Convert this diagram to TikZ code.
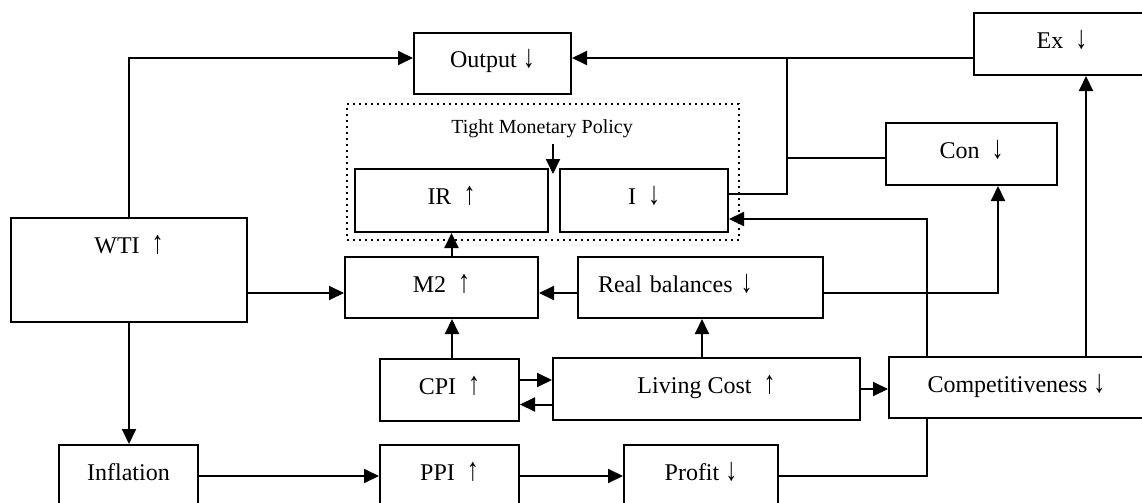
\documentclass[tikz,border=0pt]{standalone}
\usepackage{fontspec}
\usepackage{graphicx}
\setmainfont{Liberation Serif}
\usetikzlibrary{arrows.meta}
\newcommand{\uparr}{\scalebox{1}[1.35]{↑}}
\newcommand{\dnarr}{\scalebox{1}[1.35]{↓}}
\tikzstyle{block} = [rectangle, draw=black, line width=1pt, anchor=north west, inner sep=0pt, text height=17.5pt, align=center, font=\fontsize{12pt}{14pt}\selectfont]
\tikzstyle{policy} = [rectangle, draw=black, line width=1pt, dotted, anchor=north west, inner sep=0pt]
\tikzstyle{arrow} = [line width=1pt, ->, >={Triangle[length=7.5pt, width=7pt]}]
\tikzstyle{line} = [line width=1pt]

\begin{document}
\begin{tikzpicture}[x=0.5pt, y=-0.5pt]
        \useasboundingbox (0,0) rectangle (1142,503);

        \node (output) [block, minimum width=78.5pt, text depth=13pt] at (413,32) {Output \dnarr};
        \node (ex) [block, minimum width=88pt, text depth=13.5pt] at (973,12) {Ex~~\dnarr};
        \node (con) [block, minimum width=85.5pt, text depth=13.5pt] at (885,122) {Con~~\dnarr};
        \node (tmpbox) [policy, minimum width=196pt, minimum height=68pt] at (346,103) {};
        \node (tight) [anchor=base, font=\fontsize{10pt}{12pt}\selectfont] at (542,133) {Tight Monetary Policy};
        \node (ir) [block, minimum width=96.5pt, text depth=14pt] at (354,168) {IR~~\uparr};
        \node (inv) [block, minimum width=84pt, text depth=14pt] at (559,168) {I~~\dnarr};
        \node (wti) [block, minimum width=118pt, text depth=34.5pt] at (10,217) {WTI~~\uparr};
        \node (m2) [block, minimum width=96.5pt, text depth=13pt] at (344,256) {M2~~\uparr};
        \node (balances) [block, text width=102.5pt, inner xsep=10pt, align=left, text depth=13pt] at (577,256) {Real balances \dnarr};
        \node (cpi) [block, minimum width=69.5pt, text depth=13.5pt] at (379,358) {CPI~~\uparr};
        \node (living) [block, minimum width=153.5pt, text depth=13.5pt] at (552,357) {Living Cost~~\uparr};
        \node (comp) [block, minimum width=127.5pt, text depth=13pt] at (888,356) {Competitiveness \dnarr};
        \node (inflation) [block, minimum width=69.5pt, text depth=13.5pt] at (58,444) {Inflation};
        \node (ppi) [block, minimum width=69.5pt, text depth=13.5pt] at (379,444) {PPI~~\uparr};
        \node (profit) [block, minimum width=77pt, text depth=13.5pt] at (623,444) {Profit \dnarr};

        \coordinate (bus) at (787,57);
        \coordinate (tighttip) at (553,174);

        % top: output and the bus from I, Con and Ex
        \draw [arrow] (wti.north) |- ([yshift=2.75pt]output.west);
        \draw [arrow] ([yshift=-7pt]ex.west) -- ([yshift=2.75pt]output.east);
        \draw [line] ([yshift=3.25pt]inv.east) -| (bus);
        \draw [line] ([yshift=-2pt]con.west) -- ([yshift=-2pt]con.west -| bus);
        \draw [arrow] (tight.south -| tighttip) -- (tighttip);
        \draw [arrow] (ir.south |- m2.north) -- (ir.south);

        % middle
        \draw [arrow] ([yshift=-2.75pt]m2.west -| wti.east) -- ([yshift=-2.75pt]m2.west);
        \draw [arrow] ([yshift=-2.75pt]balances.west) -- ([yshift=-2.75pt]m2.east);
        \draw [arrow] ([yshift=-2.75pt]balances.east) -| ([xshift=13.25pt]con.south);
        \draw [arrow] ([xshift=1.25pt]cpi.north) -- ([xshift=1.25pt]cpi.north |- m2.south);
        \draw [arrow] ([xshift=-2.25pt]living.north) -- ([xshift=-2.25pt]living.north |- balances.south);
        \draw [arrow] ([yshift=5pt]cpi.east) -- ([yshift=5pt]cpi.east -| living.west);
        \draw [arrow] ([yshift=-7.75pt]living.west) -- ([yshift=-7.75pt]living.west -| cpi.east);
        \draw [arrow] (living.east) -- (living.east -| comp.west);
        \draw [arrow] ([xshift=19.5pt]comp.north west) |- ([yshift=-9.25pt]inv.east);
        \draw [arrow] ([xshift=99pt]comp.north west) -- ([xshift=99pt]comp.north west |- ex.south);

        % bottom
        \draw [arrow] (wti.south) -- (wti.south |- inflation.north);
        \draw [arrow] (inflation.east) -- (ppi.west);
        \draw [arrow] (ppi.east) -- (profit.west);
        \draw [line] (profit.east) -| ([xshift=19.5pt]comp.south west);

\end{tikzpicture}
\end{document}
